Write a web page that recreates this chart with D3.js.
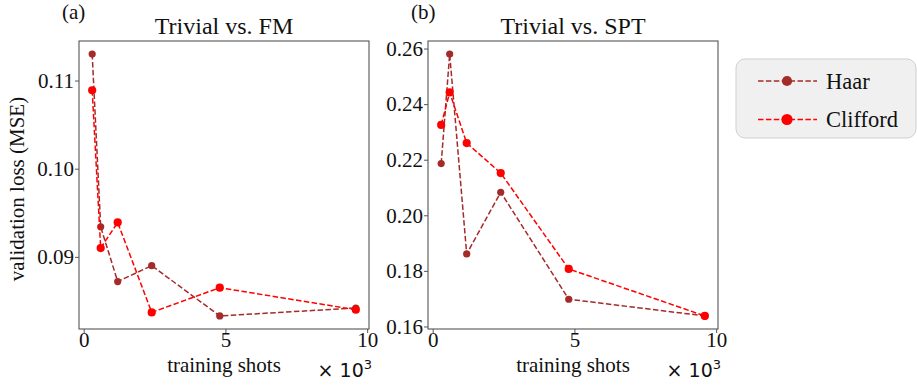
<!DOCTYPE html>
<html>
<head>
<meta charset="utf-8">
<script src="https://cdn.jsdelivr.net/npm/d3@7"></script>
<style>
  body { margin: 0; background: #fff; }
  svg { display: block; font-family: "Liberation Serif", "Times New Roman", serif; }
</style>
</head>
<body>
<svg width="917" height="388"></svg>
<script>
// training shots (x 10^3)
const shots = [0.3, 0.6, 1.2, 2.4, 4.8, 9.6]
// panel (a) Trivial vs. FM
const fmHaar = [0.1130, 0.0934, 0.0872, 0.0890, 0.0833, 0.0842]
const fmClifford = [0.1089, 0.0910, 0.0939, 0.0837, 0.0865, 0.0840]
// panel (b) Trivial vs. SPT
const sptHaar = [0.2186, 0.2580, 0.1861, 0.2083, 0.1698, 0.1638]
const sptClifford = [0.2325, 0.2442, 0.2260, 0.2152, 0.1807, 0.1638]
const xTicks = [0, 5, 10]
const fmTicks = [0.09, 0.10, 0.11]
const sptTicks = [0.16, 0.18, 0.20, 0.22, 0.24, 0.26]
const seriesNames = ["Haar", "Clifford"]
const seriesColors = ["#a52a2a", "#ff0000"]
const markerR = [3.6, 4.1]

const svg = d3.select("svg")

const panels = [
	{ tag: "(a)", title: "Trivial vs. FM", left: 79, series: [fmHaar, fmClifford], yTicks: fmTicks, fmt: d3.format(".2f") },
	{ tag: "(b)", title: "Trivial vs. SPT", left: 428, series: [sptHaar, sptClifford], yTicks: sptTicks, fmt: d3.format(".2f") }
]
const plotTop = 41, plotBottom = 329, plotWidth = 290

// matplotlib style 5% margins
function padded(ext) {
	const d = (ext[1] - ext[0]) * 0.05
	return [ext[0] - d, ext[1] + d]
}

panels.forEach(p => {
	const g = svg.append("g")
	const x = d3.scaleLinear().domain(padded(d3.extent(shots))).range([p.left, p.left + plotWidth])
	const allY = p.series.flat()
	const y = d3.scaleLinear().domain(padded(d3.extent(allY))).range([plotBottom, plotTop])

	// frame
	g.append("rect")
		.attr("x", p.left).attr("y", plotTop)
		.attr("width", plotWidth).attr("height", plotBottom - plotTop)
		.attr("fill", "none").attr("stroke", "#555").attr("stroke-width", 1.1)

	const xAxis = g.append("g")
		.attr("transform", `translate(0,${plotBottom})`)
		.call(d3.axisBottom(x).tickValues(xTicks).tickSize(4).tickFormat(d3.format("d")))
	const yAxis = g.append("g")
		.attr("transform", `translate(${p.left},0)`)
		.call(d3.axisLeft(y).tickValues(p.yTicks).tickSize(4).tickFormat(p.fmt))
	for (const a of [xAxis, yAxis]) {
		a.select(".domain").remove()
		a.selectAll(".tick line").attr("stroke", "#555")
		a.selectAll(".tick text")
			.attr("fill", "#111")
			.style("font-family", "Liberation Serif, serif")
			.style("font-size", "21px")
	}
	xAxis.selectAll(".tick text").attr("dy", "0.75em").attr("y", 2)
	yAxis.selectAll(".tick text").attr("x", -5)

	const line = d3.line().x((d, i) => x(shots[i])).y(d => y(d))
	p.series.forEach((vals, si) => {
		g.append("path")
			.datum(vals)
			.attr("d", line)
			.attr("fill", "none")
			.attr("stroke", seriesColors[si])
			.attr("stroke-width", 1.5)
			.attr("stroke-dasharray", "5.5 2.4")
		g.selectAll(null)
			.data(vals)
			.enter()
			.append("circle")
			.attr("cx", (d, i) => x(shots[i]))
			.attr("cy", d => y(d))
			.attr("r", markerR[si])
			.attr("fill", seriesColors[si])
	})

	const cx = p.left + plotWidth / 2
	g.append("text")
		.attr("x", cx).attr("y", 34)
		.attr("text-anchor", "middle")
		.style("font-size", "24px")
		.attr("fill", "#111")
		.text(p.title)
	g.append("text")
		.attr("x", p.left - 17).attr("y", 19)
		.style("font-size", "21px")
		.attr("fill", "#111")
		.text(p.tag)
	g.append("text")
		.attr("x", cx).attr("y", 372)
		.attr("text-anchor", "middle")
		.style("font-size", "21px")
		.attr("fill", "#111")
		.text("training shots")
	const mult = g.append("text")
		.attr("x", p.left + plotWidth + 3).attr("y", 377)
		.attr("text-anchor", "end")
		.style("font-family", "DejaVu Sans, sans-serif")
		.style("font-size", "19px")
		.attr("fill", "#111")
	mult.append("tspan").text("\u00d7 10")
	mult.append("tspan").attr("dy", -8).style("font-size", "13px").text("3")
})

svg.append("text")
	.attr("transform", "translate(24,189) rotate(-90)")
	.attr("text-anchor", "middle")
	.style("font-size", "21px")
	.attr("fill", "#111")
	.text("validation loss (MSE)")

// legend
const leg = svg.append("g")
leg.append("rect")
	.attr("x", 736).attr("y", 59)
	.attr("width", 180).attr("height", 79)
	.attr("rx", 9)
	.attr("fill", "#f0f0f0").attr("stroke", "#cfcfcf").attr("stroke-width", 1)
seriesNames.forEach((name, i) => {
	const ly = 81 + i * 38.5
	leg.append("line")
		.attr("x1", 758).attr("x2", 817).attr("y1", ly).attr("y2", ly)
		.attr("stroke", seriesColors[i]).attr("stroke-width", 1.5)
		.attr("stroke-dasharray", "5.5 2.4")
	leg.append("circle")
		.attr("cx", 787).attr("cy", ly).attr("r", markerR[i] + 1.5)
		.attr("fill", seriesColors[i])
	leg.append("text")
		.attr("x", 826).attr("y", ly + 7.5)
		.style("font-size", "22.5px")
		.attr("fill", "#111")
		.text(name)
})
</script>
</body>
</html>
